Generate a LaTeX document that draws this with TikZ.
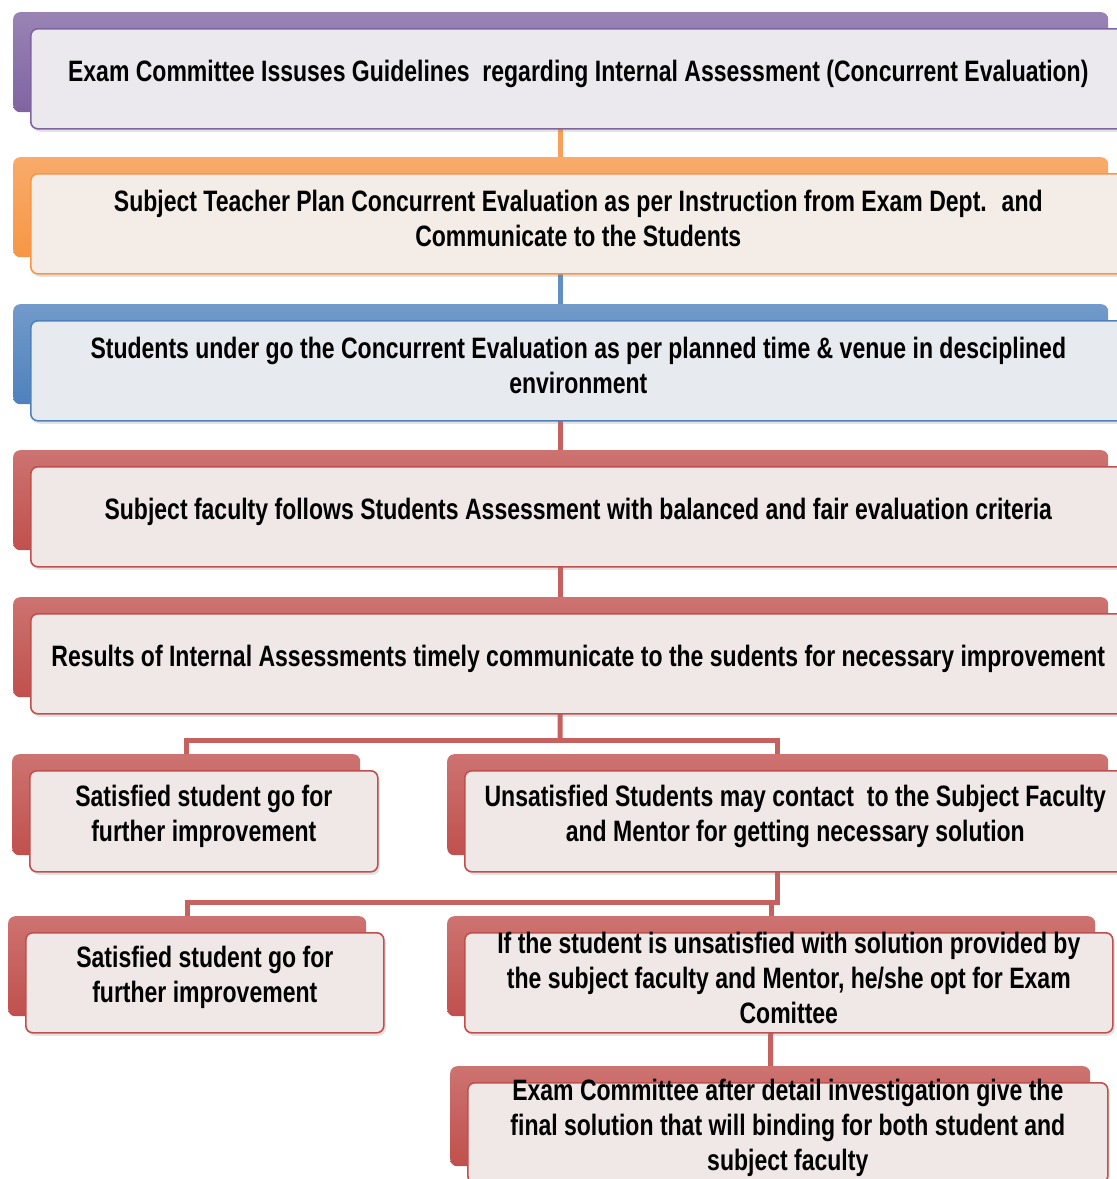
\documentclass[tikz,border=0pt]{standalone}
\usepackage{fontspec}
\setmainfont{Liberation Sans}[FakeStretch=0.78]
\usetikzlibrary{shadows,backgrounds}
\definecolor{col_8064A2}{RGB}{128,100,162}
\definecolor{col_F79646}{RGB}{247,150,70}
\definecolor{col_4F81BD}{RGB}{79,129,189}
\definecolor{col_C0504D}{RGB}{192,80,77}
\tikzset{
  cardtab/.style={top color=#1!80!white, bottom color=#1, rounded corners=7pt, inner sep=0pt},
  cardface/.style={draw=#1, fill=#1!8!white!96!black, line width=1.6pt, rounded corners=7pt,
    inner sep=0pt, drop shadow={opacity=0.22, shadow xshift=2pt, shadow yshift=-3pt}},
  cardtext/.style={inner sep=0pt, yshift=5pt, align=center, font=\bfseries\fontsize{29.5}{35}\selectfont},
  link/.style={draw=#1!90!white, line width=5pt},
}
\newcommand{\tikzdrawcard}[7]{%
\node[cardtab=#2, minimum width=#5pt, minimum height=#6pt, anchor=north west] (#1t) at (#3-17,#4-16) {};
\node[cardface=#2, minimum width=#5pt, minimum height=#6pt, anchor=north west,
  label={[cardtext]center:{#7}}] (#1) at (#3,#4) {};
}
\begin{document}
\begin{tikzpicture}[x=1pt,y=-1pt]
\useasboundingbox (0,0) rectangle (1117,1179);
\tikzdrawcard{guide}{col_8064A2}{30}{28}{1095}{100}{Exam Committee Issuses Guidelines~ regarding Internal Assessment (Concurrent Evaluation)}
\tikzdrawcard{plan}{col_F79646}{30}{173}{1095}{100}{Subject Teacher Plan Concurrent Evaluation as per Instruction from Exam Dept.~ and\\Communicate to the Students}
\tikzdrawcard{exam}{col_4F81BD}{30}{320}{1095}{100}{Students under go the Concurrent Evaluation as per planned time \& venue in desciplined\\environment}
\tikzdrawcard{assess}{col_C0504D}{30}{466}{1095}{100}{Subject faculty follows Students Assessment with balanced and fair evaluation criteria}
\tikzdrawcard{result}{col_C0504D}{30}{613}{1095}{100}{Results of Internal Assessments timely communicate to the sudents for necessary improvement}
%% first split
\tikzdrawcard{satA}{col_C0504D}{29}{770}{348}{101}{Satisfied student go for\\further improvement}
\tikzdrawcard{unsat}{col_C0504D}{464}{770}{661}{101}{Unsatisfied Students may contact~ to the Subject Faculty\\and Mentor for getting necessary solution}
%% second split
\tikzdrawcard{satB}{col_C0504D}{25}{932}{358}{100}{Satisfied student go for\\further improvement}
\tikzdrawcard{appeal}{col_C0504D}{464}{932}{648}{100}{If the student is unsatisfied with solution provided by\\the subject faculty and Mentor, he/she opt for Exam\\Comittee}
\tikzdrawcard{final}{col_C0504D}{467}{1082}{640}{100}{Exam Committee after detail investigation give the\\final solution that will binding for both student and\\subject faculty}
\coordinate (fork1) at (560,740);
\coordinate (fork2) at (480,902);
\begin{scope}[on background layer]
\draw[link=col_F79646] (guidet.center) -- (plant.center);
\draw[link=col_4F81BD] (plant.center) -- (examt.center);
\draw[link=col_C0504D] (examt.center) -- (assesst.center);
\draw[link=col_C0504D] (assesst.center) -- (resultt.center);
\draw[link=col_C0504D] (resultt.center) -- (fork1);
\draw[link=col_C0504D] (satAt.center) |- (fork1) -| (unsatt.center);
\draw[link=col_C0504D] (unsatt.center) |- (fork2);
\draw[link=col_C0504D] (satBt.center) |- (fork2) -| (appealt.center);
\draw[link=col_C0504D] (appealt.center) -- (finalt.center);
\end{scope}
\end{tikzpicture}
\end{document}
